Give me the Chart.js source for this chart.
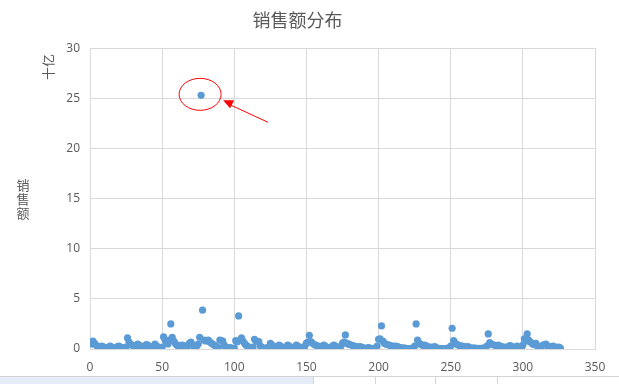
<!DOCTYPE html>
<html>
<head>
<meta charset="utf-8">
<script src="https://cdn.jsdelivr.net/npm/chart.js@4"></script>
<style>
  html, body { margin: 0; padding: 0; background: #fff; }
  #wrap { width: 619px; height: 384px; position: relative; }
</style>
</head>
<body>
<div id="wrap"><canvas id="sales-chart"></canvas></div>
<script>
const chartTitle = "销售额分布";
const yAxisTitle = ["销", "售", "额"];
const unitLabel = "十亿";
const xTicks = [0, 350, 50];
const yTicks = [0, 30, 5];

// 销售额 (十亿), one value per record, record number starts at 1
const salesValues = [
    0.5, 0.8, 0.6, 0.4, 0.3, 0.2, 0.1, 0.3, 0.25, 0.15, 0.1, 0.05, 0.2, 0.3, 0.2, 0.1, 0.05, 0.1, 0.25, 0.3, 0.2, 0.1, 0.05, 0.15, 0.2,
    1.1, 0.7, 0.5, 0.4, 0.3, 0.2, 0.35, 0.5, 0.4, 0.3, 0.2, 0.1, 0.3, 0.45, 0.4, 0.2, 0.1, 0.05, 0.3, 0.5, 0.35, 0.2, 0.1, 0.05, 0.2,
    1.2, 0.9, 0.7, 0.5, 0.9, 2.5, 1.15, 0.8, 0.6, 0.4, 0.3, 0.2, 0.35, 0.4, 0.3, 0.2, 0.1, 0.4, 0.6, 0.7, 0.4, 0.2, 0.1, 0.3, 0.5,
    1.17, 25.3, 3.87, 0.9, 0.8, 0.85, 0.9, 0.7, 0.6, 0.5, 0.4, 0.3, 0.2, 0.15, 0.9, 0.85, 0.8, 0.4, 0.2, 0.1, 0.1, 0.15, 0.1, 0.05, 0.1,
    0.83, 0.7, 3.3, 0.9, 1.1, 0.8, 0.6, 0.4, 0.3, 0.2, 0.15, 0.1, 0.2, 0.97, 0.8, 0.75, 0.73, 0.3, 0.2, 0.1, 0.05, 0.1, 0.15, 0.1, 0.57,
    0.4, 0.3, 0.2, 0.1, 0.15, 0.4, 0.3, 0.2, 0.1, 0.05, 0.2, 0.4, 0.3, 0.2, 0.1, 0.05, 0.15, 0.4, 0.3, 0.2, 0.1, 0.05, 0.1, 0.3, 0.6,
    0.7, 1.37, 0.73, 0.6, 0.5, 0.4, 0.35, 0.3, 0.25, 0.2, 0.3, 0.4, 0.3, 0.2, 0.1, 0.05, 0.15, 0.3, 0.4, 0.3, 0.2, 0.1, 0.05, 0.3, 0.6,
    0.7, 1.4, 0.6, 0.5, 0.45, 0.4, 0.35, 0.3, 0.25, 0.2, 0.2, 0.23, 0.2, 0.15, 0.1, 0.05, 0.1, 0.15, 0.1, 0.05, 0.02, 0.05, 0.1, 0.3, 0.97,
    1.0, 2.3, 0.8, 0.57, 0.5, 0.45, 0.4, 0.35, 0.3, 0.3, 0.25, 0.3, 0.25, 0.2, 0.15, 0.1, 0.1, 0.08, 0.07, 0.05, 0.05, 0.03, 0.05, 0.1, 0.3,
    2.5, 0.9, 0.6, 0.5, 0.4, 0.35, 0.4, 0.3, 0.23, 0.2, 0.15, 0.2, 0.15, 0.23, 0.1, 0.08, 0.05, 0.05, 0.03, 0.05, 0.0, 0.05, 0.1, 0.05, 0.3,
    2.07, 0.83, 0.6, 0.5, 0.4, 0.35, 0.3, 0.3, 0.25, 0.2, 0.2, 0.23, 0.15, 0.1, 0.1, 0.08, 0.1, 0.05, 0.07, 0.05, 0.05, 0.1, 0.05, 0.1, 0.3,
    1.5, 0.63, 0.5, 0.45, 0.4, 0.35, 0.3, 0.4, 0.3, 0.25, 0.2, 0.2, 0.15, 0.2, 0.25, 0.35, 0.3, 0.2, 0.1, 0.15, 0.3, 0.2, 0.1, 0.05, 0.4,
    1.0, 0.8, 1.5, 0.9, 0.73, 0.6, 0.5, 0.45, 0.57, 0.3, 0.07, 0.2, 0.3, 0.4, 0.45, 0.5, 0.3, 0.2, 0.15, 0.25, 0.3, 0.2, 0.17, 0.17, 0.2, 0.1
];

const textColor = "#595959";
const gridColor = "#d9d9d9";
const fontFamily = "'Open Sans', 'Noto Sans CJK SC', sans-serif";

// index of the circled outlier
const outlierIndex = salesValues.indexOf(Math.max(...salesValues));

let extraText = {
    id: "extraText",
    afterDraw(chart) {
        const ctx = chart.ctx;
        ctx.save();
        ctx.fillStyle = textColor;
        ctx.font = "13px 'Noto Sans CJK SC'";
        ctx.textAlign = "center";
        ctx.textBaseline = "middle";
        yAxisTitle.forEach((ch, i) => ctx.fillText(ch, 23, 185 + i * 14));

        ctx.translate(48, 67);
        ctx.rotate(-Math.PI / 2);
        ctx.fillText(unitLabel, 0, 0);
        ctx.restore();

        // red circle + arrow round the outlier
        const px = chart.scales.x.getPixelForValue(outlierIndex + 1);
        const py = chart.scales.y.getPixelForValue(salesValues[outlierIndex]);
        ctx.save();
        ctx.strokeStyle = "#ff0000";
        ctx.fillStyle = "#ff0000";
        ctx.lineWidth = 1;
        ctx.beginPath();
        ctx.ellipse(px - 1, py - 1, 21, 16, 0, 0, Math.PI * 2);
        ctx.stroke();

        ctx.beginPath();
        ctx.moveTo(px + 67, py + 27);
        ctx.lineTo(px + 28, py + 9);
        ctx.stroke();
        ctx.beginPath();
        ctx.moveTo(px + 22, py + 5);
        ctx.lineTo(px + 33, py + 5);
        ctx.lineTo(px + 29, py + 13);
        ctx.closePath();
        ctx.fill();
        ctx.restore();

        // spreadsheet row peeking in at the bottom
        ctx.save();
        ctx.fillStyle = "#e3ecf7";
        ctx.fillRect(0, 377, 313, 7);
        ctx.strokeStyle = "#d4d4d4";
        ctx.beginPath();
        ctx.moveTo(0, 376.5);
        ctx.lineTo(619, 376.5);
        [313.5, 375.5, 435.5, 497.5].forEach(x => {
            ctx.moveTo(x, 377);
            ctx.lineTo(x, 384);
        });
        ctx.stroke();
        ctx.restore();
    }
};

let initChart = () => {
    const points = salesValues.map((v, i) => ({ x: i + 1, y: v }));

    const config = {
        type: "scatter",
        data: {
            datasets: [{
                data: points,
                backgroundColor: "#5b9bd5",
                borderWidth: 0,
                pointRadius: 3.6,
                pointHoverRadius: 3.6
            }]
        },
        options: {
            responsive: true,
            maintainAspectRatio: false,
            animation: false,
            layout: {
                padding: { left: 0, right: 24, top: 0, bottom: 0 }
            },
            plugins: {
                legend: { display: false },
                tooltip: { enabled: false },
                title: {
                    display: true,
                    text: chartTitle,
                    color: textColor,
                    font: { family: "'Noto Sans CJK SC'", size: 18, weight: "normal" },
                    padding: { top: 9, bottom: 17.6 }
                }
            },
            scales: {
                x: {
                    min: xTicks[0],
                    max: xTicks[1],
                    ticks: {
                        stepSize: xTicks[2],
                        color: textColor,
                        font: { family: fontFamily, size: 12 },
                        padding: 11,
                        maxRotation: 0
                    },
                    grid: { color: gridColor, drawTicks: false },
                    border: { color: gridColor },
                    afterFit: s => { s.height = 35; }
                },
                y: {
                    min: yTicks[0],
                    max: yTicks[1],
                    ticks: {
                        stepSize: yTicks[2],
                        color: textColor,
                        font: { family: fontFamily, size: 12 },
                        padding: 10
                    },
                    grid: { color: gridColor, drawTicks: false },
                    border: { color: gridColor },
                    afterFit: s => { s.width = 90; }
                }
            }
        },
        plugins: [extraText]
    };

    new Chart("sales-chart", config);
};

initChart();
</script>
</body>
</html>
